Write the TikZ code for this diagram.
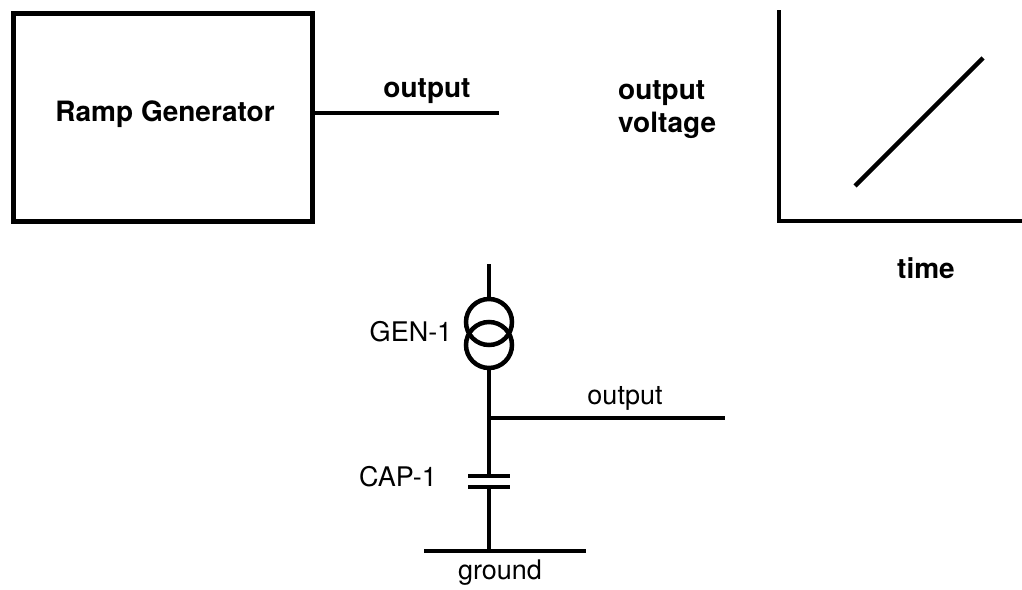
\documentclass[tikz,border=0pt]{standalone}
\usepackage{fontspec}
\setmainfont{TeX Gyre Heros}
\begin{document}
\begin{tikzpicture}[x=1pt,y=-1pt,
  bold/.style={font=\fontsize{28}{33}\selectfont\bfseries, inner sep=0pt},
  reg/.style={font=\fontsize{27}{32}\selectfont, inner sep=0pt},
  wire/.style={line width=3.5pt},
  thickline/.style={line width=4.5pt},
  gencircle/.style={circle, draw, line width=4.5pt, minimum size=46pt, inner sep=0pt}]
\useasboundingbox (0,0) rectangle (1022,589);
% block
\node[draw, line width=5pt, minimum width=299pt, minimum height=208pt, inner sep=0pt] (box) at (162.5,117) {};
\node[bold] (rg) at (165,114) {Ramp Generator};
\coordinate (o1) at (499,113);
\draw[line width=4pt] (box.east |- o1) -- (o1);
\node[bold] (olab) at (427,91) {output};
% graph
\node[bold, align=left, anchor=west] (ov) at (618,110) {output\\voltage};
\coordinate (ax0) at (779,221);
\coordinate (axt) at (779,10);
\coordinate (axr) at (1022,221);
\draw[line width=4pt] (axt) -- (ax0) -- (axr);
\coordinate (r0) at (855,186);
\coordinate (r1) at (983,58);
\draw[thickline] (r0) -- (r1);
\node[bold] (time) at (926,268) {time};
% circuit
\coordinate (g0) at (489,264);
\node[gencircle] (c1) at (489,322) {};
\node[gencircle] (c2) at (489,345) {};
\node[reg] (gen) at (411,332) {GEN-1};
\coordinate (j) at (489,418);
\coordinate (oc) at (725,418);
\coordinate (p1l) at (468,476);
\coordinate (p1r) at (510,476);
\coordinate (p2l) at (468,487);
\coordinate (p2r) at (510,487);
\coordinate (p1) at (489,476);
\coordinate (p2) at (489,487);
\coordinate (gnd) at (489,551);
\coordinate (gl) at (424,551);
\coordinate (gr) at (586,551);
\draw[wire] (g0) -- (c1.north);
\draw[wire] (c2.south) -- (j) -- (p1);
\draw[wire] (j) -- (oc);
\draw[line width=4.5pt] (p1l) -- (p1r);
\draw[line width=4.5pt] (p2l) -- (p2r);
\draw[wire] (p2) -- (gnd);
\draw[wire] (gl) -- (gr);
\node[reg] (oclab) at (625,398) {output};
\node[reg] (cap) at (398,477) {CAP-1};
\node[reg] (gndlab) at (500,573) {ground};
\end{tikzpicture}
\end{document}
